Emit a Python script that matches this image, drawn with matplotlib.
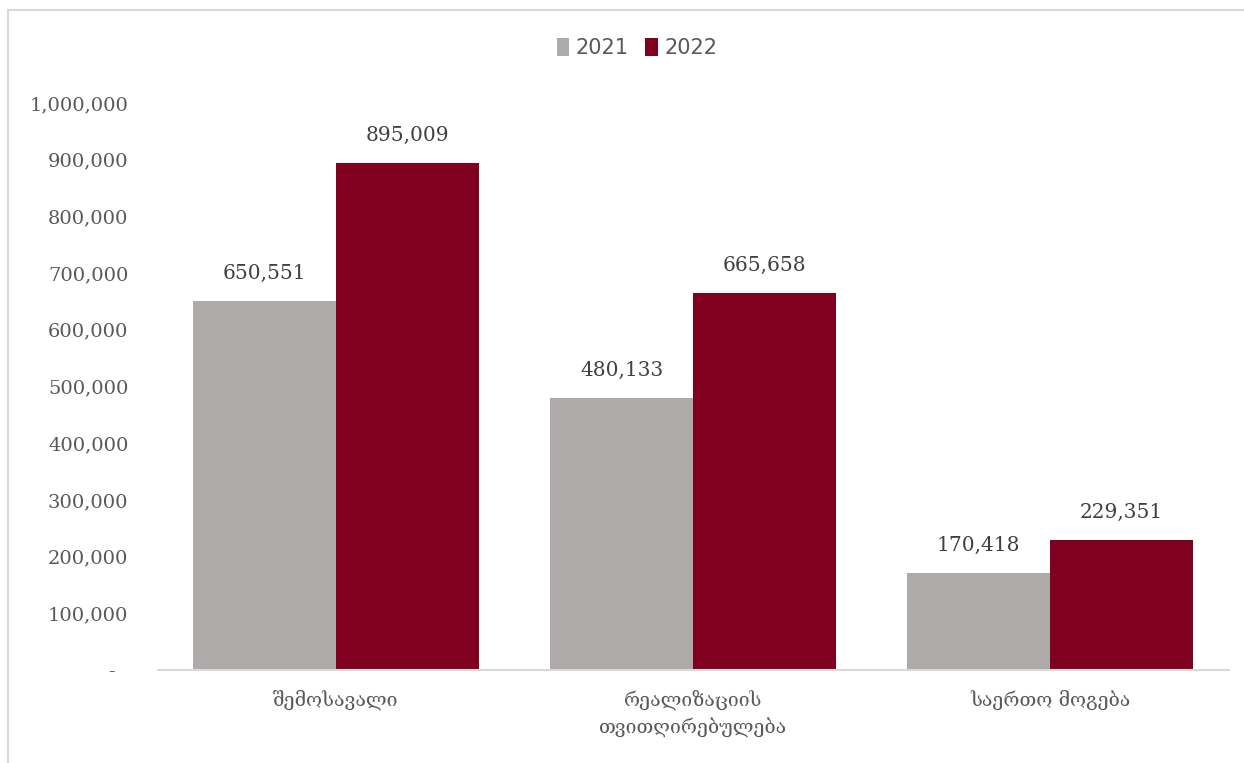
import matplotlib
matplotlib.use("Agg")
import matplotlib.pyplot as plt
from matplotlib.patches import Rectangle
from matplotlib.ticker import FuncFormatter
import numpy as np

categories = ["შემოსავალი", "რეალიზაციის\nთვითღირებულება", "საერთო მოგება"]
series_names = ["2021", "2022"]
values_2021 = [650551, 480133, 170418]
values_2022 = [895009, 665658, 229351]
yticks = [0, 100000, 200000, 300000, 400000, 500000, 600000, 700000, 800000, 900000, 1000000]

colors = ["#AEAAAA", "#800020"]
text_color = "#595959"
serif = ["DejaVu Serif", "DejaVu Sans"]

fig = plt.figure(figsize=(12.44, 7.63), dpi=100)
ax = fig.add_axes([157.5 / 1244, 1 - 670 / 763, 1071 / 1244, (670 - 103) / 763])

x = np.arange(len(categories))
w = 0.4
b1 = ax.bar(x - w / 2, values_2021, w, color=colors[0], label=series_names[0], zorder=2)
b2 = ax.bar(x + w / 2, values_2022, w, color=colors[1], label=series_names[1], zorder=2)

for bars, vals in ((b1, values_2021), (b2, values_2022)):
    for r, v in zip(bars, vals):
        ax.annotate(f"{v:,}", (r.get_x() + r.get_width() / 2, v), xytext=(0, 13),
                    textcoords="offset points", ha="center", va="bottom",
                    fontsize=14.5, color="#404040", family=serif)

ax.set_xlim(-0.5, len(categories) - 0.5)
ax.set_ylim(0, 1000000)
ax.set_yticks(yticks)
ax.yaxis.set_major_formatter(FuncFormatter(lambda v, p: "-  " if v == 0 else f"{int(v):,}"))
ax.set_xticks(x)
ax.set_xticklabels(categories, family=serif, fontsize=14, color=text_color, linespacing=1.5)
for lab in ax.get_yticklabels():
    lab.set_family(serif)
    lab.set_fontsize(14)
    lab.set_color(text_color)
ax.tick_params(axis="both", length=0)
ax.tick_params(axis="y", pad=21)
ax.tick_params(axis="x", pad=14)
for s in ["top", "right", "left"]:
    ax.spines[s].set_visible(False)
ax.spines["bottom"].set_color("#D9D9D9")
ax.spines["bottom"].set_linewidth(1.5)
ax.spines["bottom"].set_zorder(3)

leg = fig.legend(handles=[b1, b2], labels=series_names, loc="center", bbox_to_anchor=(637 / 1244, 1 - 48 / 763),
                 ncol=2, frameon=False, handlelength=0.6, handleheight=1.0, handletextpad=0.3, columnspacing=0.8,
                 prop={"family": ["Liberation Sans Narrow", "DejaVu Sans"], "size": 15})
for t in leg.get_texts():
    t.set_color(text_color)

fig.patches.append(Rectangle((8 / 1244, -0.1), 2, 1 - 10 / 763 + 0.1, transform=fig.transFigure,
                             fill=False, edgecolor="#D9D9D9", linewidth=1.5))

fig.savefig("out.png", dpi=100)
